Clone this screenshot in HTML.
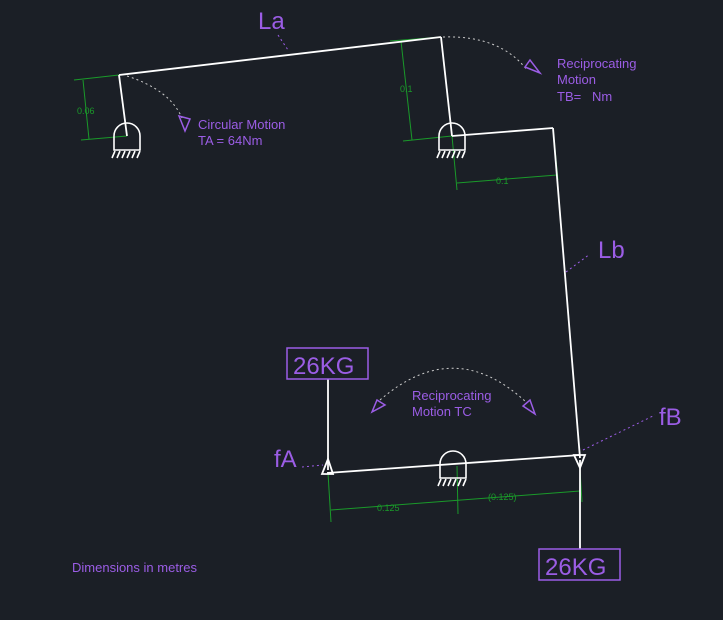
<!DOCTYPE html>
<html><head><meta charset="utf-8"><style>
html,body{margin:0;padding:0;background:#1b1f26;}
svg{display:block}
text{font-family:"Liberation Sans","DejaVu Sans",sans-serif;fill:#9b5de5}
</style></head><body>
<svg width="723" height="620" viewBox="0 0 723 620" xmlns="http://www.w3.org/2000/svg">
<rect width="723" height="620" fill="#1b1f26"/>
<defs>
<g id="piv" stroke="#fff" stroke-width="1.6" fill="none">
<path d="M-13 14 V0 A13 13 0 0 1 13 0 V14 Z"/>
<path d="M-12 15 l-3 7 M-7 15 l-3 7 M-2 15 l-3 7 M3 15 l-3 7 M8 15 l-3 7 M13 15 l-3 7"/>
</g>
</defs>
<!-- green dimensions -->
<g stroke="#1a9a2a" stroke-width="1" fill="none">
<line x1="74" y1="80" x2="119" y2="75"/>
<line x1="81" y1="140" x2="127" y2="136"/>
<line x1="83" y1="80" x2="89" y2="139"/>
<line x1="390" y1="41" x2="441" y2="37"/>
<line x1="403" y1="141" x2="452" y2="136"/>
<line x1="401" y1="41" x2="412" y2="140"/>
<line x1="452" y1="136" x2="457" y2="190"/>
<line x1="553" y1="128" x2="558" y2="180"/>
<line x1="457" y1="183" x2="557" y2="175"/>
<line x1="328" y1="473" x2="331" y2="522"/>
<line x1="457" y1="466" x2="458" y2="514"/>
<line x1="580" y1="470" x2="582" y2="502"/>
<line x1="331" y1="510" x2="580" y2="491"/>
</g>
<g font-size="9" fill="#1a9a2a" style="fill:#1a9a2a">
<text x="77" y="114" style="fill:#1a9a2a">0.06</text>
<text x="400" y="92" style="fill:#1a9a2a">0.1</text>
<text x="496" y="184" style="fill:#1a9a2a">0.1</text>
<text x="377" y="511" style="fill:#1a9a2a">0.125</text>
<text x="488" y="500" style="fill:#1a9a2a">(0.125)</text>
</g>
<!-- dotted arcs -->
<g stroke="#ccc" stroke-width="1" stroke-dasharray="2 3" fill="none">
<path d="M127 76 Q170 90 182 118"/>
<path d="M443 37 Q500 35 527 70"/>
<path d="M380 400 Q455 335 527 403"/>
</g>
<g stroke="#9b5de5" stroke-width="1.5" fill="none">
<path d="M179 116 L185 131 L190 119 Z"/>
<path d="M525 67 L540 73 L530 60 Z"/>
<path d="M372 412 L385 405 L377 400 Z"/>
<path d="M535 414 L530 400 L523 406 Z"/>
</g>
<g stroke="#9b5de5" stroke-width="1" stroke-dasharray="2 3" fill="none">
<line x1="278" y1="35" x2="288" y2="50"/>
<line x1="566" y1="272" x2="590" y2="254"/>
<line x1="583" y1="450" x2="655" y2="415"/>
<line x1="302" y1="467" x2="323" y2="465"/>
</g>
<!-- white members -->
<g stroke="#fff" stroke-width="1.8" fill="none">
<line x1="119" y1="75" x2="441" y2="37"/>
<line x1="119" y1="75" x2="127" y2="136"/>
<line x1="441" y1="37" x2="452" y2="136"/>
<line x1="452" y1="136" x2="553" y2="128"/>
<line x1="553" y1="128" x2="580" y2="458"/>
<line x1="327" y1="473" x2="580" y2="455"/>
<line x1="328" y1="379" x2="328" y2="470"/>
<line x1="580" y1="460" x2="580" y2="549"/>
<path d="M322 474 L333 474 L328 459 Z"/>
<path d="M574 455 L585 455 L580 468 Z"/>
</g>
<use href="#piv" x="127" y="136"/>
<use href="#piv" x="452" y="136"/>
<use href="#piv" x="453" y="464"/>
<!-- boxes -->
<rect x="287" y="348" width="81" height="31" fill="none" stroke="#9b5de5" stroke-width="1.5"/>
<rect x="539" y="549" width="81" height="31" fill="none" stroke="#9b5de5" stroke-width="1.5"/>
<text x="293" y="374" font-size="24">26KG</text>
<text x="545" y="575" font-size="24">26KG</text>
<text x="258" y="29" font-size="24">La</text>
<text x="598" y="258" font-size="24">Lb</text>
<text x="659" y="425" font-size="24">fB</text>
<text x="274" y="467" font-size="24">fA</text>
<g font-size="13">
<text x="198" y="129">Circular Motion</text>
<text x="198" y="145">TA = 64Nm</text>
<text x="557" y="68">Reciprocating</text>
<text x="557" y="84">Motion</text>
<text x="557" y="101">TB=&#160;&#160;&#160;Nm</text>
<text x="412" y="400">Reciprocating</text>
<text x="412" y="416">Motion TC</text>
<text x="72" y="572">Dimensions in metres</text>
</g>
</svg>
</body></html>
